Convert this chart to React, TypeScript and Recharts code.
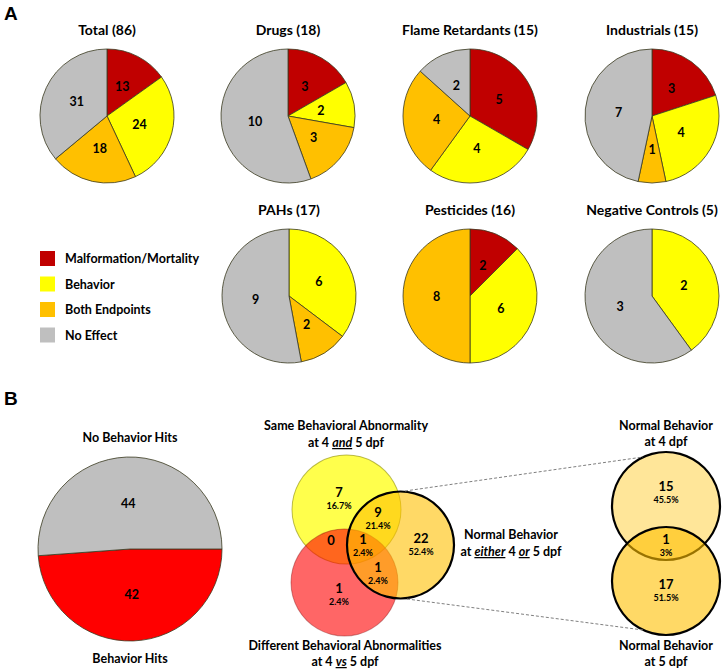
import { PieChart, Pie, Cell } from 'recharts';

// panel A
const categories = ['Malformation/Mortality', 'Behavior', 'Both Endpoints', 'No Effect'];
const groups = ['Total (86)', 'Drugs (18)', 'Flame Retardants (15)', 'Industrials (15)', 'PAHs (17)', 'Pesticides (16)', 'Negative Controls (5)'];
const malformation = [13, 3, 5, 3, 0, 2, 0];
const behavior = [24, 2, 4, 4, 6, 6, 2];
const bothEndpoints = [18, 3, 4, 1, 2, 8, 0];
const noEffect = [31, 10, 2, 7, 9, 0, 3];

// panel B
const hitNames = ['Behavior Hits', 'No Behavior Hits'];
const hitCounts = [42, 44];

// venn 1: same / different / normal-either
const vennOneRegions = [7, 9, 0, 1, 22, 1, 1];
const vennOnePct = ['16.7%', '21.4%', '', '2.4%', '52.4%', '2.4%', '2.4%'];
// venn 2: normal at 4 dpf / both / normal at 5 dpf
const vennTwoRegions = [15, 1, 17];
const vennTwoPct = ['45.5%', '3%', '51.5%'];

const COLORS: Record<string, string> = {
  'Malformation/Mortality': '#C00000',
  Behavior: '#FFFF00',
  'Both Endpoints': '#FFC000',
  'No Effect': '#BFBFBF',
  'Behavior Hits': '#FF0000',
  'No Behavior Hits': '#BFBFBF',
};

const FONT = "Lato, 'Open Sans', sans-serif";
const RADIAN = Math.PI / 180;

const seriesValues = [malformation, behavior, bothEndpoints, noEffect];

const groupData = groups.map((_, g) =>
  categories.map((c, i) => ({ name: c, value: seriesValues[i][g] })).filter((d) => d.value > 0)
);

const hitData = hitNames.map((n, i) => ({ name: n, value: hitCounts[i] }));

// pie layout
const PIE_R = 67;
const pieCenters = [
  [107, 116], [288, 116], [470, 116], [652, 116],
  [289, 296], [470, 296], [652, 296],
];

const sliceLabel = (props: any) => {
  const { cx, cy, midAngle, outerRadius, value } = props;
  const r = outerRadius * 0.5;
  const x = cx + r * Math.cos(-midAngle * RADIAN);
  const y = cy + r * Math.sin(-midAngle * RADIAN);
  return (
    <text x={x} y={y} textAnchor="middle" dominantBaseline="central" fontFamily={FONT} fontWeight="bold" fontSize={12.5} fill="#000">
      {value}
    </text>
  );
};

// venn circles
const vennOneCircles = [
  { key: 'same', cx: 346.5, cy: 509.5, r: 54.5, fill: '#FFFF00', op: 0.7, total: vennOneRegions[0] + vennOneRegions[1] + vennOneRegions[2] + vennOneRegions[3], ring: '#8c8c00', ringOp: 0.6, w: 1 },
  { key: 'diff', cx: 344.5, cy: 582.5, r: 53.5, fill: '#FF0000', op: 0.6, total: vennOneRegions[2] + vennOneRegions[3] + vennOneRegions[5] + vennOneRegions[6], ring: '#800000', ringOp: 0.4, w: 1 },
  { key: 'normal', cx: 400.5, cy: 545, r: 53.5, fill: '#FFC000', op: 0.6, total: vennOneRegions[1] + vennOneRegions[3] + vennOneRegions[4] + vennOneRegions[5], ring: '#000000', ringOp: 1, w: 2.2 },
];
const vennTwoCircles = [
  { key: 'n4', cx: 666, cy: 506, r: 54, fill: '#FFC000', op: 0.4, total: vennTwoRegions[0] + vennTwoRegions[1], ring: '#000000', ringOp: 1, w: 2.2 },
  { key: 'n5', cx: 666, cy: 581, r: 54, fill: '#FFC000', op: 0.6, total: vennTwoRegions[1] + vennTwoRegions[2], ring: '#000000', ringOp: 1, w: 2.2 },
];

const vennOneSpots = [
  [339, 493], [378, 513], [331, 541], [363, 540], [421, 539], [378, 568], [339, 589],
];
const vennTwoSpots = [[666, 487], [666, 540], [666, 585]];

const T = (p: any) => (
  <text fontFamily={FONT} fontWeight="bold" fontSize={12.5} fill="#000" textAnchor="middle" {...p} />
);

const App = () => {
  const circles = [...vennOneCircles, ...vennTwoCircles];
  return (
    <div style={{ position: 'absolute', left: 0, top: 0, width: 724, height: 670, background: '#fff' }}>
      <PieChart width={724} height={670} margin={{ top: 0, right: 0, bottom: 0, left: 0 }}>
        {groupData.map((data, g) => (
          <Pie
            key={groups[g]}
            data={data}
            dataKey="value"
            nameKey="name"
            cx={pieCenters[g][0]}
            cy={pieCenters[g][1]}
            outerRadius={PIE_R}
            startAngle={90}
            endAngle={-270}
            stroke="#3a3a20"
            strokeWidth={0.8}
            label={sliceLabel}
            labelLine={false}
            isAnimationActive={false}
          >
            {data.map((d) => (
              <Cell key={d.name} fill={COLORS[d.name]} />
            ))}
          </Pie>
        ))}

        <Pie
          data={hitData}
          dataKey="value"
          nameKey="name"
          cx={130}
          cy={549}
          outerRadius={92}
          startAngle={0}
          endAngle={-360}
          stroke="#3a3a20"
          strokeWidth={0.8}
          label={sliceLabel}
          labelLine={false}
          isAnimationActive={false}
        >
          {hitData.map((d) => (
            <Cell key={d.name} fill={COLORS[d.name]} />
          ))}
        </Pie>

        {circles.flatMap((c) => [
          <Pie
            key={c.key + '-fill'}
            data={[{ name: c.key, value: c.total }]}
            dataKey="value"
            cx={c.cx}
            cy={c.cy}
            outerRadius={c.r}
            startAngle={90}
            endAngle={-270}
            stroke="none"
            label={false}
            labelLine={false}
            isAnimationActive={false}
          >
            <Cell fill={c.fill} fillOpacity={c.op} />
          </Pie>,
          <Pie
            key={c.key + '-ring'}
            data={[{ name: c.key, value: c.total }]}
            dataKey="value"
            cx={c.cx}
            cy={c.cy}
            innerRadius={c.r - c.w / 2}
            outerRadius={c.r + c.w / 2}
            startAngle={90}
            endAngle={-270}
            stroke="none"
            label={false}
            labelLine={false}
            isAnimationActive={false}
          >
            <Cell fill={c.ring} fillOpacity={c.ringOp} />
          </Pie>,
        ])}
      </PieChart>

      {/* text overlay, kept above the chart layers */}
      <svg width={724} height={670} style={{ position: 'absolute', left: 0, top: 0, pointerEvents: 'none' }}>
        <text x={4} y={20} fontFamily="Arial, sans-serif" fontWeight="bold" fontSize={19}>A</text>
        <text x={4} y={405} fontFamily="Arial, sans-serif" fontWeight="bold" fontSize={19}>B</text>

        {groups.map((g, i) => (
          <T key={g} x={pieCenters[i][0]} y={pieCenters[i][1] - 81} fontSize={14}>{g}</T>
        ))}

        {categories.map((c, i) => (
          <g key={c}>
            <rect x={40} y={251 + i * 25.5} width={15} height={15} fill={COLORS[c]} />
            <T x={65} y={263 + i * 25.5} textAnchor="start" fontSize={12.5}>{c}</T>
          </g>
        ))}

        <T x={130} y={442}>{hitNames[1]}</T>
        <T x={130} y={663}>{hitNames[0]}</T>

        <T x={346} y={430}>Same Behavioral Abnormality</T>
        <T x={346} y={447}>
          <tspan>at 4 </tspan>
          <tspan fontStyle="italic" textDecoration="underline">and</tspan>
          <tspan> 5 dpf</tspan>
        </T>
        <T x={345} y={650}>Different Behavioral Abnormalities</T>
        <T x={345} y={666}>
          <tspan>at 4 </tspan>
          <tspan fontStyle="italic" textDecoration="underline">vs</tspan>
          <tspan> 5 dpf</tspan>
        </T>
        <T x={511} y={539}>Normal Behavior</T>
        <T x={511} y={556}>
          <tspan>at </tspan>
          <tspan fontStyle="italic" textDecoration="underline">either</tspan>
          <tspan> 4 </tspan>
          <tspan fontStyle="italic" textDecoration="underline">or</tspan>
          <tspan> 5 dpf</tspan>
        </T>
        <T x={666} y={430}>Normal Behavior</T>
        <T x={666} y={446}>at 4 dpf</T>
        <T x={666} y={650}>Normal Behavior</T>
        <T x={666} y={666}>at 5 dpf</T>

        <line x1={405} y1={491} x2={643} y2={457} stroke="#7f7f7f" strokeWidth={1} strokeDasharray="3 2" />
        <line x1={407} y1={599} x2={643} y2={630} stroke="#7f7f7f" strokeWidth={1} strokeDasharray="3 2" />

        {vennOneRegions.map((v, i) => (
          <g key={'v1-' + i}>
            <T x={vennOneSpots[i][0]} y={vennOneSpots[i][1] + 4} fontSize={13}>{v}</T>
            {vennOnePct[i] && (
              <T x={vennOneSpots[i][0]} y={vennOneSpots[i][1] + 16} fontSize={9}>{vennOnePct[i]}</T>
            )}
          </g>
        ))}
        {vennTwoRegions.map((v, i) => (
          <g key={'v2-' + i}>
            <T x={vennTwoSpots[i][0]} y={vennTwoSpots[i][1] + 4} fontSize={13}>{v}</T>
            <T x={vennTwoSpots[i][0]} y={vennTwoSpots[i][1] + 16} fontSize={9}>{vennTwoPct[i]}</T>
          </g>
        ))}
      </svg>
    </div>
  );
};

export default App;
